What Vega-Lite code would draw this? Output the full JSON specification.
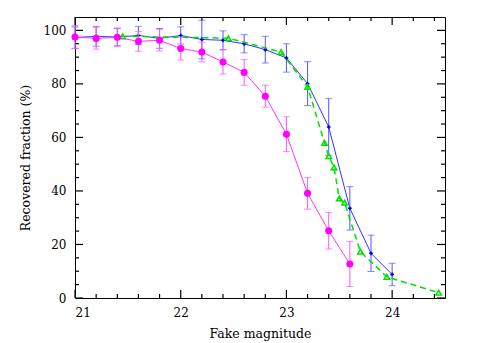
{
  "$schema": "https://vega.github.io/schema/vega-lite/v6.json",
  "width": 370,
  "height": 281,
  "autosize": "none",
  "padding": {"left": 75, "top": 17, "right": 40, "bottom": 45},
  "background": "white",
  "config": {
    "view": {"stroke": "#000", "strokeWidth": 1},
    "axis": {
      "labelFont": "DejaVu Serif",
      "titleFont": "DejaVu Serif",
      "labelFontSize": 12,
      "titleFontSize": 12.5,
      "titleFontWeight": "normal",
      "labelColor": "#000",
      "titleColor": "#000",
      "domain": false,
      "ticks": false,
      "grid": false,
      "labelOverlap": false
    }
  },
  "datasets": {
    "xmajor": [{"v": 21}, {"v": 22}, {"v": 23}, {"v": 24}],
    "xminor": [{"v": 21.2}, {"v": 21.4}, {"v": 21.6}, {"v": 21.8}, {"v": 22.2}, {"v": 22.4}, {"v": 22.6}, {"v": 22.8}, {"v": 23.2}, {"v": 23.4}, {"v": 23.6}, {"v": 23.8}, {"v": 24.2}, {"v": 24.4}],
    "ymajor": [{"v": 0}, {"v": 20}, {"v": 40}, {"v": 60}, {"v": 80}, {"v": 100}],
    "yminor": [{"v": 5}, {"v": 10}, {"v": 15}, {"v": 25}, {"v": 30}, {"v": 35}, {"v": 45}, {"v": 50}, {"v": 55}, {"v": 65}, {"v": 70}, {"v": 75}, {"v": 85}, {"v": 90}, {"v": 95}],
    "magenta": [
      {"mag": 21.0, "pct": 97.5, "err": 4.3},
      {"mag": 21.2, "pct": 97.0, "err": 4.0},
      {"mag": 21.4, "pct": 97.4, "err": 3.5},
      {"mag": 21.6, "pct": 95.9, "err": 3.7},
      {"mag": 21.8, "pct": 96.3, "err": 4.0},
      {"mag": 22.0, "pct": 93.2, "err": 4.3},
      {"mag": 22.2, "pct": 91.9, "err": 3.7},
      {"mag": 22.4, "pct": 88.2, "err": 4.5},
      {"mag": 22.6, "pct": 84.3, "err": 4.8},
      {"mag": 22.8, "pct": 75.4, "err": 4.1},
      {"mag": 23.0, "pct": 61.2, "err": 6.5},
      {"mag": 23.2, "pct": 39.1, "err": 5.9},
      {"mag": 23.4, "pct": 25.1, "err": 6.8},
      {"mag": 23.6, "pct": 12.7, "err": 8.4}
    ],
    "blue": [
      {"mag": 21.0, "pct": 97.3, "err": 4.0},
      {"mag": 21.2, "pct": 97.8, "err": 3.7},
      {"mag": 21.4, "pct": 97.5, "err": 3.2},
      {"mag": 21.6, "pct": 98.1, "err": 3.4},
      {"mag": 21.8, "pct": 97.0, "err": 3.7},
      {"mag": 22.0, "pct": 98.1, "err": 3.2},
      {"mag": 22.2, "pct": 96.6, "err": 7.2},
      {"mag": 22.4, "pct": 96.3, "err": 3.5},
      {"mag": 22.6, "pct": 95.0, "err": 3.4},
      {"mag": 22.8, "pct": 92.8, "err": 5.0},
      {"mag": 23.0, "pct": 89.7, "err": 5.3},
      {"mag": 23.2, "pct": 80.1, "err": 8.2},
      {"mag": 23.4, "pct": 63.9, "err": 10.6},
      {"mag": 23.6, "pct": 33.5, "err": 8.1},
      {"mag": 23.8, "pct": 16.7, "err": 6.8},
      {"mag": 24.0, "pct": 8.8, "err": 4.2}
    ],
    "green": [
      {"mag": 21.45, "pct": 97.8},
      {"mag": 22.45, "pct": 97.1},
      {"mag": 22.95, "pct": 91.9},
      {"mag": 23.2, "pct": 78.9},
      {"mag": 23.36, "pct": 58.0},
      {"mag": 23.4, "pct": 53.0},
      {"mag": 23.45, "pct": 48.8},
      {"mag": 23.5, "pct": 37.2},
      {"mag": 23.55, "pct": 35.6},
      {"mag": 23.7, "pct": 17.3},
      {"mag": 23.95, "pct": 7.9},
      {"mag": 24.44, "pct": 2.0}
    ]
  },
  "layer": [
    {
      "data": {"name": "blue"},
      "mark": {"type": "line", "color": "#3333ff", "strokeWidth": 1},
      "encoding": {
        "x": {
          "field": "mag", "type": "quantitative",
          "scale": {"domain": [21, 24.5], "nice": false, "zero": false},
          "axis": {
            "orient": "bottom",
            "title": "Fake magnitude",
            "values": [21, 22, 23, 24],
            "format": "d",
            "labelPadding": 9,
            "titlePadding": 9
          }
        },
        "y": {
          "field": "pct", "type": "quantitative",
          "scale": {"domain": [0, 105], "nice": false},
          "axis": {
            "orient": "left",
            "title": "Recovered fraction (%)",
            "values": [0, 20, 40, 60, 80, 100],
            "labelPadding": 9,
            "titlePadding": 11
          }
        }
      }
    },
    {
      "data": {"name": "xmajor"},
      "mark": {"type": "rule", "color": "black", "strokeWidth": 1.2, "opacity": 1},
      "encoding": {
        "x": {"field": "v", "type": "quantitative", "axis": null},
        "y": {"datum": 0, "type": "quantitative", "axis": null},
        "y2": {"datum": 3}
      }
    },
    {
      "data": {"name": "xmajor"},
      "mark": {"type": "rule", "color": "black", "strokeWidth": 1.2, "opacity": 1},
      "encoding": {
        "x": {"field": "v", "type": "quantitative", "axis": null},
        "y": {"datum": 102, "type": "quantitative", "axis": null},
        "y2": {"datum": 105}
      }
    },
    {
      "data": {"name": "xminor"},
      "mark": {"type": "rule", "color": "black", "strokeWidth": 1.2, "opacity": 1},
      "encoding": {
        "x": {"field": "v", "type": "quantitative", "axis": null},
        "y": {"datum": 0, "type": "quantitative", "axis": null},
        "y2": {"datum": 1.5}
      }
    },
    {
      "data": {"name": "xminor"},
      "mark": {"type": "rule", "color": "black", "strokeWidth": 1.2, "opacity": 1},
      "encoding": {
        "x": {"field": "v", "type": "quantitative", "axis": null},
        "y": {"datum": 103.5, "type": "quantitative", "axis": null},
        "y2": {"datum": 105}
      }
    },
    {
      "data": {"name": "ymajor"},
      "mark": {"type": "rule", "color": "black", "strokeWidth": 1.2, "opacity": 1},
      "encoding": {
        "y": {"field": "v", "type": "quantitative", "axis": null},
        "x": {"datum": 21, "type": "quantitative", "axis": null},
        "x2": {"datum": 21.076}
      }
    },
    {
      "data": {"name": "ymajor"},
      "mark": {"type": "rule", "color": "black", "strokeWidth": 1.2, "opacity": 1},
      "encoding": {
        "y": {"field": "v", "type": "quantitative", "axis": null},
        "x": {"datum": 24.424, "type": "quantitative", "axis": null},
        "x2": {"datum": 24.5}
      }
    },
    {
      "data": {"name": "yminor"},
      "mark": {"type": "rule", "color": "black", "strokeWidth": 1.2, "opacity": 1},
      "encoding": {
        "y": {"field": "v", "type": "quantitative", "axis": null},
        "x": {"datum": 21, "type": "quantitative", "axis": null},
        "x2": {"datum": 21.038}
      }
    },
    {
      "data": {"name": "yminor"},
      "mark": {"type": "rule", "color": "black", "strokeWidth": 1.2, "opacity": 1},
      "encoding": {
        "y": {"field": "v", "type": "quantitative", "axis": null},
        "x": {"datum": 24.462, "type": "quantitative", "axis": null},
        "x2": {"datum": 24.5}
      }
    },
    {
      "data": {"name": "blue"},
      "mark": {"type": "errorbar", "color": "#5555ff", "ticks": {"size": 7, "color": "#5555ff"}},
      "encoding": {
        "x": {"field": "mag", "type": "quantitative", "axis": null},
        "y": {"field": "pct", "type": "quantitative", "axis": null},
        "yError": {"field": "err"}
      }
    },
    {
      "data": {"name": "blue"},
      "mark": {"type": "point", "shape": "cross", "filled": true, "color": "#0000cc", "size": 14, "opacity": 1},
      "encoding": {
        "x": {"field": "mag", "type": "quantitative", "axis": null},
        "y": {"field": "pct", "type": "quantitative", "axis": null}
      }
    },
    {
      "data": {"name": "green"},
      "mark": {"type": "line", "color": "#00e000", "strokeWidth": 1.5, "strokeDash": [6, 4]},
      "encoding": {
        "x": {"field": "mag", "type": "quantitative", "axis": null},
        "y": {"field": "pct", "type": "quantitative", "axis": null}
      }
    },
    {
      "data": {"name": "green"},
      "mark": {"type": "point", "shape": "triangle-up", "filled": false, "color": "#00e000", "size": 30, "strokeWidth": 1.5, "opacity": 1},
      "encoding": {
        "x": {"field": "mag", "type": "quantitative", "axis": null},
        "y": {"field": "pct", "type": "quantitative", "axis": null}
      }
    },
    {
      "data": {"name": "magenta"},
      "mark": {"type": "line", "color": "#ff33ff", "strokeWidth": 1},
      "encoding": {
        "x": {"field": "mag", "type": "quantitative", "axis": null},
        "y": {"field": "pct", "type": "quantitative", "axis": null}
      }
    },
    {
      "data": {"name": "magenta"},
      "mark": {"type": "errorbar", "color": "#ff55ff", "ticks": {"size": 7, "color": "#ff55ff"}},
      "encoding": {
        "x": {"field": "mag", "type": "quantitative", "axis": null},
        "y": {"field": "pct", "type": "quantitative", "axis": null},
        "yError": {"field": "err"}
      }
    },
    {
      "data": {"name": "magenta"},
      "mark": {"type": "point", "shape": "circle", "filled": true, "color": "#ff00ff", "size": 50, "opacity": 1},
      "encoding": {
        "x": {"field": "mag", "type": "quantitative", "axis": null},
        "y": {"field": "pct", "type": "quantitative", "axis": null}
      }
    }
  ],
  "resolve": {"axis": {"x": "independent", "y": "independent"}}
}
